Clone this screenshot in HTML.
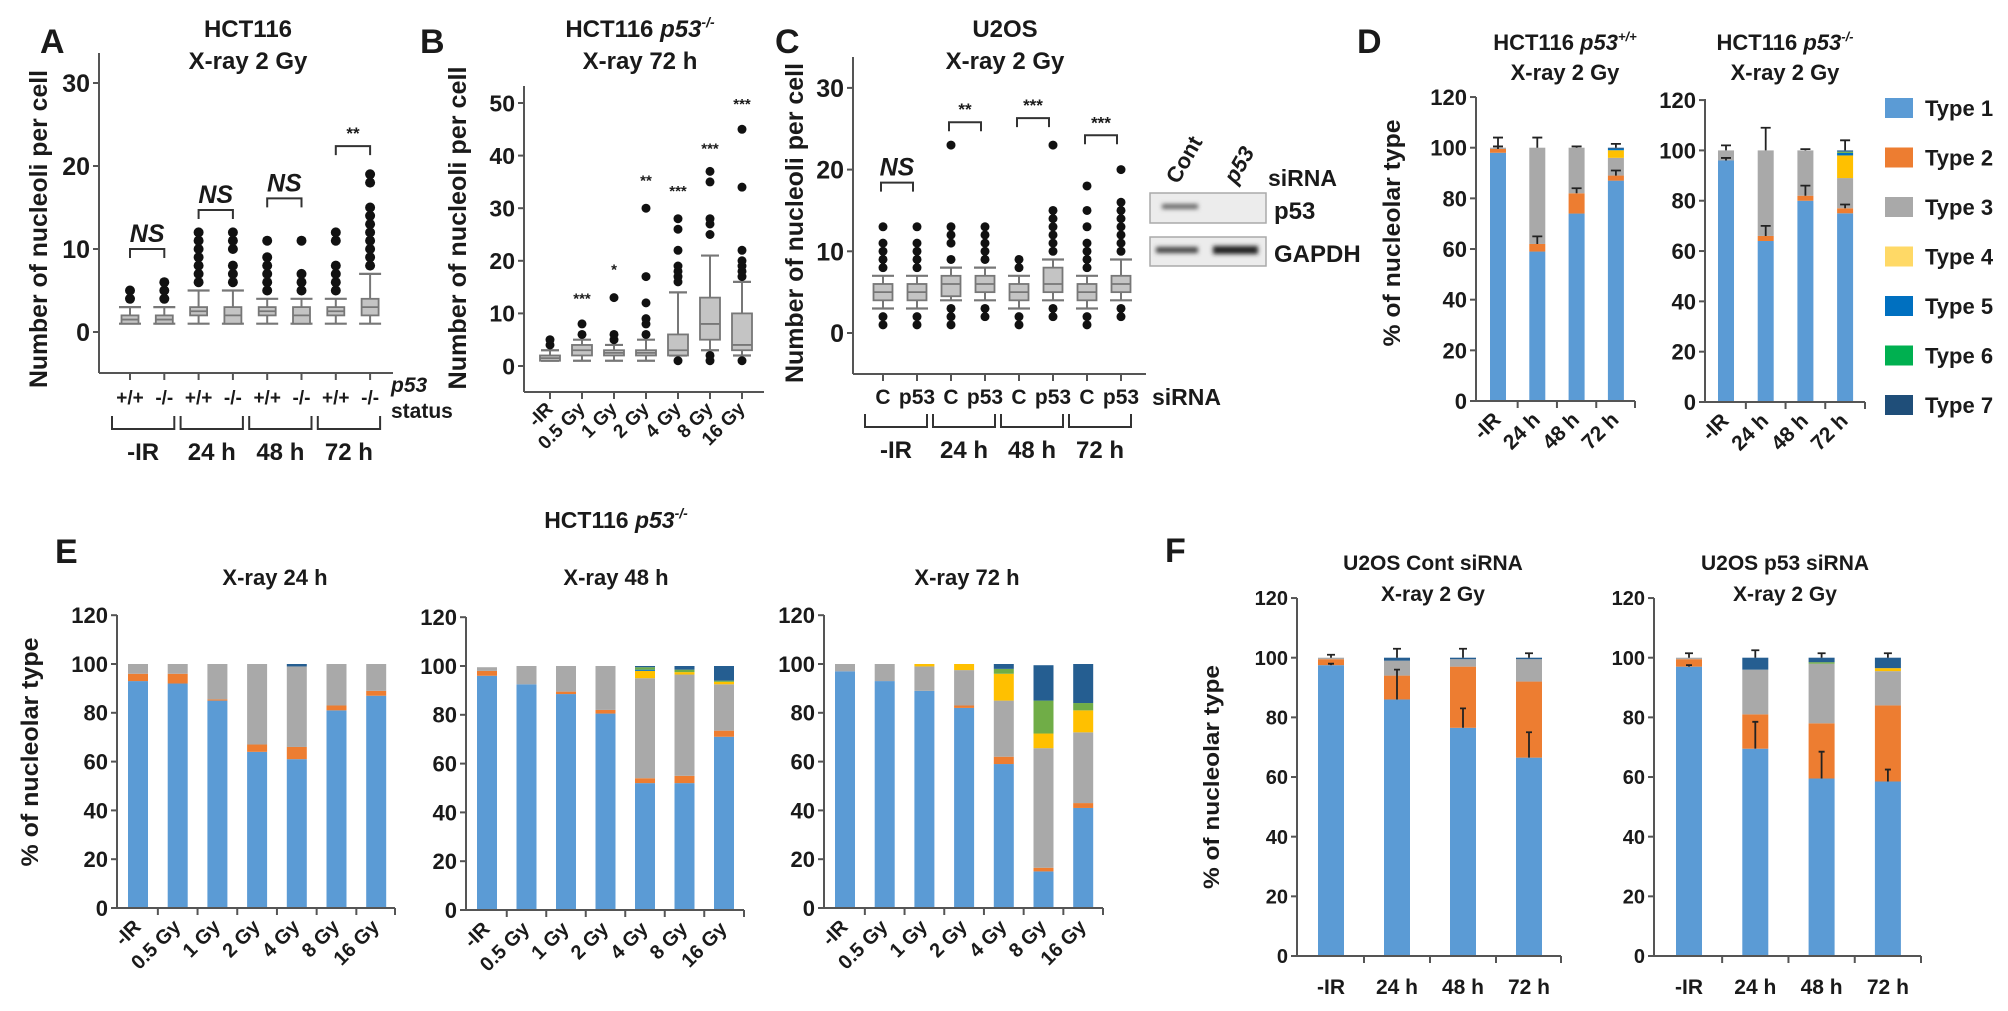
<!DOCTYPE html>
<html><head><meta charset="utf-8"><style>
html,body{margin:0;padding:0;background:#fff;}
svg{display:block;font-family:"Liberation Sans",Arial,sans-serif;font-weight:bold;}
</style></head><body>
<svg id="fig" width="2008" height="1011" viewBox="0 0 2008 1011" xmlns="http://www.w3.org/2000/svg">
<defs><filter id="blur" x="-20%" y="-100%" width="140%" height="300%"><feGaussianBlur stdDeviation="2.2"/></filter></defs>
<g id="pA"></g>
<g id="pB"></g>
<g id="pC"></g>
<g id="pD"></g>
<g id="pE"></g>
<g id="pF"></g>
</svg>
<script>
// ---------- Panel A data ----------
const aCats=['+/+','-/-','+/+','-/-','+/+','-/-','+/+','-/-'];
const aMin=[1,1,1,1,1,1,1,1];
const aQ1=[1,1,2,1,2,1,2,2];
const aMed=[1.5,1.5,2.5,2,2.5,2,2.5,3];
const aQ3=[2,2,3,3,3,3,3,4];
const aMax=[3,3,5,5,4,4,4,7];
const aOut=[[4,5],[4,5,6],[6,7,8,9,10,11,12],[6,7,8,10,11,12],[5,6,7,8,9,11],[5,6,7,11],[5,6,7,8,11,12],[8,9,10,11,12,13,14,15,18,19]];
const aGroups=['-IR','24 h','48 h','72 h'];
const aSig=['NS','NS','NS','**'];
const aSigY=[10,14.7,16.1,22.4];
const aTicks=[0,10,20,30];
// ---------- Panel B data ----------
const bCats=['-IR','0.5 Gy','1 Gy','2 Gy','4 Gy','8 Gy','16 Gy'];
const bMin=[1,1,1,1,2,3,2];
const bQ1=[1,2,2,2,2,5,3];
const bMed=[1.5,3,2.5,2.5,3,8,4];
const bQ3=[2,4,3,3,6,13,10];
const bMax=[3,5,4,5,14,21,16];
const bOut=[[4,5],[6,8],[5,6,13],[6,8,9,12,17,30],[1,16,17,18,19,22,26,28],[1,2,25,27,28,35,37],[1,17,18,19,20,22,34,45]];
const bSig=['','***','*','**','***','***','***'];
const bSigY=[0,13,18.5,35.5,33.5,41.5,50];
const bTicks=[0,10,20,30,40,50];
// ---------- Panel C data ----------
const cCats=['C','p53','C','p53','C','p53','C','p53'];
const cMin=[3,3,4,4,3,4,3,4];
const cQ1=[4,4,4.5,5,4,5,4,5];
const cMed=[5,5,6,6,5,6,5,6];
const cQ3=[6,6,7,7,6,8,6,7];
const cMax=[7,7,8,8,7,9,7,9];
const cOut=[[1,2,8,9,10,11,13],[1,2,8,9,10,11,13],[1,2,3,9,11,12,13,23],[2,3,9,10,11,12,13],[1,2,8,9],[2,3,10,11,12,13,14,15,23],[1,2,8,9,10,11,13,15,18],[2,3,10,11,12,13,14,15,16,20]];
const cGroups=['-IR','24 h','48 h','72 h'];
const cSig=['NS','**','***','***'];
const cSigY=[18.4,25.8,26.3,24.2];
const cTicks=[0,10,20,30];
// ---------- Stacked bar shared ----------
const typeNames=['Type 1','Type 2','Type 3','Type 4','Type 5','Type 6','Type 7'];
const pctTicks=[0,20,40,60,80,100,120];
const timeCats=['-IR','24 h','48 h','72 h'];
const doseCats=['-IR','0.5 Gy','1 Gy','2 Gy','4 Gy','8 Gy','16 Gy'];
// D: HCT116 p53+/+
const dp_t1=[98,59,74,87];
const dp_t2=[1.5,3,8,2];
const dp_t3=[0.5,38,18,7];
const dp_t4=[0,0,0,3];
const dp_t5=[0,0,0,0.5];
const dp_t6=[0,0,0,0];
const dp_t7=[0,0,0,0.5];
const dp_errTop=[4,4,0.5,1.5];
const dp_errT1=[1,3,2,2];
// D: HCT116 p53-/-
const dn_t1=[96,64,80,75];
const dn_t2=[0,2,2,2];
const dn_t3=[4,34,18,12];
const dn_t4=[0,0,0,9];
const dn_t5=[0,0,0,1];
const dn_t6=[0,0,0,0.5];
const dn_t7=[0,0,0,0.5];
const dn_errTop=[2,9,0.5,4];
const dn_errT1=[1,4,4,1.5];
// E: 24 h
const e24_t1=[93,92,85,64,61,81,87];
const e24_t2=[3,4,0.5,3,5,2,2];
const e24_t3=[4,4,14.5,33,33,17,11];
const e24_t4=[0,0,0,0,0,0,0];
const e24_t5=[0,0,0,0,0,0,0];
const e24_t6=[0,0,0,0,0,0,0];
const e24_t7=[0,0,0,0,1,0,0];
// E: 48 h
const e48_t1=[96,92.5,88.5,80.5,52,52,71];
const e48_t2=[2,0,1,1.5,2,3,2.5];
const e48_t3=[1.5,7.5,10.5,18,41,41.5,19];
const e48_t4=[0,0,0,0,3,1,1];
const e48_t5=[0,0,0,0,0.5,0,0];
const e48_t6=[0,0,0,0,1,1,0.5];
const e48_t7=[0,0,0,0,0.5,1.5,6];
// E: 72 h
const e72_t1=[97,93,89,82,59,15,41];
const e72_t2=[0,0,0,1,3,1.5,2];
const e72_t3=[3,7,10,14.5,23,49,29];
const e72_t4=[0,0,1,2.5,11,6,9];
const e72_t5=[0,0,0,0,0,0,0];
const e72_t6=[0,0,0,0,2,13.5,3];
const e72_t7=[0,0,0,0,2,14.5,16];
// F: U2OS Cont siRNA
const fc_t1=[97.5,86,76.5,66.5];
const fc_t2=[2,8,20.5,25.5];
const fc_t3=[0.5,5,2.5,7.5];
const fc_t4=[0,0,0,0];
const fc_t5=[0,0,0,0];
const fc_t6=[0,0,0,0];
const fc_t7=[0,1,0.5,0.5];
const fc_errT1=[0.5,10,6.5,8.5];
const fc_errTop=[1,3,3,1.5];
// F: U2OS p53 siRNA
const fp_t1=[97,69.5,59.5,58.5];
const fp_t2=[2.5,11.5,18.5,25.5];
const fp_t3=[0.5,15,20,11.5];
const fp_t4=[0,0,0,1];
const fp_t5=[0,0,0,0];
const fp_t6=[0,0,0.5,0];
const fp_t7=[0,4,1.5,3.5];
const fp_errT1=[0.5,9,9,4];
const fp_errTop=[1.5,2.5,1.5,1.5];

const colors=['#5b9bd5','#ed7d31','#a9a9a9','#ffc000','#0070c0','#70ad47','#255e91'];
const legendColors=['#5b9bd5','#ed7d31','#a9a9a9','#ffd966','#0070c0','#00b050','#1f4e79'];

const NS='http://www.w3.org/2000/svg';
function mk(tag,parent,attrs,text){
  const e=document.createElementNS(NS,tag);
  for(const k in attrs) e.setAttribute(k,attrs[k]);
  if(text!=null) e.textContent=text;
  parent.appendChild(e);
  return e;
}
function txt(parent,x,y,s,size,anchor,extra){
  const a=Object.assign({x:x,y:y,'font-size':size,'text-anchor':anchor||'middle',fill:'#1a1a1a'},extra||{});
  return mk('text',parent,a,s);
}
function panelLetter(g,x,y,s){
  const t=txt(g,x,y,s,34,'start');
  
  
}
function yAxis(g,ax,ticks,size){
  const l=mk('line',g,{x1:ax.x0,x2:ax.x0,y1:ax.yBot,y2:ax.yTop,stroke:'#555','stroke-width':2});
  
  
  ticks.forEach(v=>{
    const yy=ax.y(v);
    mk('line',g,{x1:ax.x0-6,x2:ax.x0,y1:yy,y2:yy,stroke:'#555','stroke-width':2});
    const t=txt(g,ax.x0-9,yy+size*0.36,String(v),size,'end');
    
    
  });
}
function xAxisLine(g,ax,n,tickMode){
  const l=mk('line',g,{x1:ax.x0,x2:ax.x1,y1:ax.yBot,y2:ax.yBot,stroke:'#555','stroke-width':2});
  
  
  for(let i=0;i<n;i++){
    let xx = tickMode==='center'? ax.x(i) : ax.x(i)+ax.step/2;
    if(tickMode!=='center' && i===n-1) xx=ax.x1;
    mk('line',g,{x1:xx,x2:xx,y1:ax.yBot,y2:ax.yBot+7,stroke:'#555','stroke-width':2});
  }
}
function yTitle(g,x,yc,s,len,size){
  const t=mk('text',g,{x:0,y:0,'font-size':size,'text-anchor':'middle',fill:'#1a1a1a',transform:`translate(${x},${yc}) rotate(-90)`,textLength:len,lengthAdjust:'spacingAndGlyphs'},s);
  
  
}
function boxPlot(g,ax,mins,q1s,meds,q3s,maxs,outs,bw,cw,r){
  mins.forEach((_,i)=>{
    const cx=ax.x(i);
    const bg=mk('g',g,{});
    
    
    mk('line',bg,{x1:cx,x2:cx,y1:ax.y(mins[i]),y2:ax.y(maxs[i]),stroke:'#777','stroke-width':2});
    mk('line',bg,{x1:cx-cw/2,x2:cx+cw/2,y1:ax.y(mins[i]),y2:ax.y(mins[i]),stroke:'#777','stroke-width':2.2});
    mk('line',bg,{x1:cx-cw/2,x2:cx+cw/2,y1:ax.y(maxs[i]),y2:ax.y(maxs[i]),stroke:'#777','stroke-width':2.2});
    mk('rect',bg,{x:cx-bw/2,y:ax.y(q3s[i]),width:bw,height:Math.max(2,ax.y(q1s[i])-ax.y(q3s[i])),fill:'#c4c4c4',stroke:'#777','stroke-width':1.8});
    mk('line',bg,{x1:cx-bw/2,x2:cx+bw/2,y1:ax.y(meds[i]),y2:ax.y(meds[i]),stroke:'#777','stroke-width':1.8});
    outs[i].forEach(v=>{
      const c=mk('circle',bg,{cx:cx,cy:ax.y(v),r:r,fill:'#111'});
      
      
    });
  });
}
function sigBracket(g,x1,x2,yy,label,italic,size){
  const p=mk('path',g,{d:`M${x1} ${yy+9} V${yy} H${x2} V${yy+9}`,fill:'none',stroke:'#333','stroke-width':2});
  
  
  const t=txt(g,(x1+x2)/2,yy-7,label,size,'middle',italic?{'font-style':'italic'}:{});
  
  
}
function groupBrackets(g,ax,groups,yb,ylab){
  groups.forEach((s,k)=>{
    const x1=ax.x(2*k)-18, x2=ax.x(2*k+1)+10;
    const p=mk('path',g,{d:`M${x1} ${yb} V${yb+13} H${x2} V${yb}`,fill:'none',stroke:'#333','stroke-width':2});
    
    
    const t=txt(g,(x1+x2)/2,ylab,s,24,'middle');
    
    
  });
}
function rotLabels(g,ax,cats,yOff,size){
  cats.forEach((s,i)=>{
    const xx=ax.x(i)+4, yy=ax.yBot+yOff;
    const t=mk('text',g,{x:0,y:0,'font-size':size,'text-anchor':'end',fill:'#1a1a1a',transform:`translate(${xx},${yy}) rotate(-45)`},s);
    
    
  });
}
function stacked(g,ax,series,bw){
  const n=series[0].length;
  for(let i=0;i<n;i++){
    let base=0;
    const bg=mk('g',g,{});
    
    
    series.forEach((arr,k)=>{
      const v=arr[i];
      if(v<=0) return;
      const r=mk('rect',bg,{x:ax.x(i)-bw/2,y:ax.y(base+v),width:bw,height:ax.y(base)-ax.y(base+v),fill:colors[k]});
      
      
      base+=v;
    });
  }
}
function errBars(g,ax,baseArrs,errs,cw){
  errs.forEach((e,i)=>{
    let base=0; baseArrs.forEach(a=>base+=a[i]);
    if(e<=0) return;
    const x=ax.x(i);
    const p=mk('path',g,{d:`M${x} ${ax.y(base)} V${ax.y(base+e)} M${x-cw/2} ${ax.y(base+e)} H${x+cw/2}`,stroke:'#222','stroke-width':1.8,fill:'none'});
    
    
  });
}
function makeAx(x0,x1,yTop,yBot,first,step,y0,pxPer){
  return {x0:x0,x1:x1,yTop:yTop,yBot:yBot,step:step,x:i=>first+i*step,y:v=>y0-v*pxPer};
}

// ================= Panel A =================
(function(){
  const g=document.getElementById('pA');
  panelLetter(g,40,53,'A');
  let t=txt(g,248,37,'HCT116',24);  
  t=txt(g,248,69,'X-ray 2 Gy',24);  
  const ax=makeAx(99,393,53,373,130,34.3,332,8.3);
  yAxis(g,ax,aTicks,25);
  xAxisLine(g,ax,aCats.length,'center');
  yTitle(g,47,229,'Number of nucleoli per cell',318,25);
  boxPlot(g,ax,aMin,aQ1,aMed,aQ3,aMax,aOut,17,22,5);
  aSig.forEach((s,k)=>sigBracket(g,ax.x(2*k),ax.x(2*k+1),ax.y(aSigY[k]),s,s==='NS',s==='NS'?25:17));
  aCats.forEach((s,i)=>{const l=txt(g,ax.x(i),404,s,19,'middle');  });
  t=txt(g,391,392,'p53',21,'start',{'font-style':'italic'});  
  t=txt(g,391,418,'status',21,'start');  
  groupBrackets(g,ax,aGroups,416,460);
})();

// ================= Panel B =================
(function(){
  const g=document.getElementById('pB');
  panelLetter(g,420,53,'B');
  const t1=mk('text',g,{x:640,y:37,'font-size':24,'text-anchor':'middle',fill:'#1a1a1a'});
  
  
  mk('tspan',t1,{},'HCT116 ');mk('tspan',t1,{'font-style':'italic'},'p53');mk('tspan',t1,{'font-size':14,dy:-10,'font-style':'italic'},'-/-');
  let t=txt(g,640,69,'X-ray 72 h',24);  
  const ax=makeAx(524,764,86,392,550,32,366,5.26);
  yAxis(g,ax,bTicks,23);
  xAxisLine(g,ax,bCats.length,'center');
  yTitle(g,466,228,'Number of nucleoli per cell',323,25);
  boxPlot(g,ax,bMin,bQ1,bMed,bQ3,bMax,bOut,20,18,4.5);
  bSig.forEach((s,i)=>{ if(!s) return; const l=txt(g,ax.x(i),ax.y(bSigY[i])+6,s,15,'middle');  });
  rotLabels(g,ax,bCats,18,19);
})();

// ================= Panel C =================
(function(){
  const g=document.getElementById('pC');
  panelLetter(g,775,53,'C');
  let t=txt(g,1005,37,'U2OS',24);  
  t=txt(g,1005,69,'X-ray 2 Gy',24);  
  const ax=makeAx(853,1146,57,374,883,34,333,8.17);
  yAxis(g,ax,cTicks,25);
  xAxisLine(g,ax,cCats.length,'center');
  yTitle(g,803,223,'Number of nucleoli per cell',320,25);
  boxPlot(g,ax,cMin,cQ1,cMed,cQ3,cMax,cOut,19,22,4.5);
  cSig.forEach((s,k)=>sigBracket(g,ax.x(2*k)-2,ax.x(2*k+1)-4,ax.y(cSigY[k]),s,s==='NS',s==='NS'?25:17));
  cCats.forEach((s,i)=>{const l=txt(g,ax.x(i),404,s,21,'middle');  });
  t=txt(g,1152,405,'siRNA',23,'start');  
  groupBrackets(g,ax,cGroups,414,458);
  // western blot
  const wb=mk('g',g,{});
  
  
  let r=mk('rect',wb,{x:1150,y:193,width:116,height:30,fill:'#ececec',stroke:'#aaa','stroke-width':1.5});
   
  r=mk('rect',wb,{x:1150,y:237,width:116,height:29,fill:'#ececec',stroke:'#aaa','stroke-width':1.5});
   
  mk('rect',wb,{x:1162,y:204,width:36,height:5,fill:'#666',filter:'url(#blur)'});
  mk('rect',wb,{x:1156,y:247,width:42,height:6,fill:'#444',filter:'url(#blur)'});
  mk('rect',wb,{x:1213,y:246,width:45,height:8,fill:'#222',filter:'url(#blur)'});
  t=txt(g,1274,219,'p53',24,'start');  
  t=txt(g,1274,262,'GAPDH',24,'start');  
  t=txt(g,1268,186,'siRNA',23,'start');  
  t=mk('text',g,{x:0,y:0,'font-size':22,'text-anchor':'start',fill:'#1a1a1a',transform:'translate(1178,185) rotate(-60)'},'Cont');
   
  t=mk('text',g,{x:0,y:0,'font-size':22,'text-anchor':'start','font-style':'italic',fill:'#1a1a1a',transform:'translate(1236,185) rotate(-60)'},'p53');
   
})();

// ================= Panel D =================
(function(){
  const g=document.getElementById('pD');
  panelLetter(g,1357,53,'D');
  function title(x,sup){
    const t=mk('text',g,{x:x,y:50,'font-size':22,'text-anchor':'middle',fill:'#1a1a1a'});
    
    
    mk('tspan',t,{},'HCT116 ');mk('tspan',t,{'font-style':'italic'},'p53');mk('tspan',t,{'font-size':13,dy:-9,'font-style':'italic'},sup);
    const s=txt(g,x,80,'X-ray 2 Gy',22);  
  }
  title(1565,'+/+'); title(1785,'-/-');
  const ax1=makeAx(1476,1635,97,401,1498,39.3,401,2.533);
  const ax2=makeAx(1705,1865,99,402,1726,39.7,402,2.516);
  yTitle(g,1400,233,'% of nucleolar type',227,24);
  [[ax1,[dp_t1,dp_t2,dp_t3,dp_t4,dp_t5,dp_t6,dp_t7],dp_errT1,dp_errTop],[ax2,[dn_t1,dn_t2,dn_t3,dn_t4,dn_t5,dn_t6,dn_t7],dn_errT1,dn_errTop]].forEach(([ax,ser,e1,et])=>{
    const cg=mk('g',g,{});
    
    
    yAxis(cg,ax,pctTicks,22);
    stacked(cg,ax,ser,16);
    xAxisLine(cg,ax,timeCats.length,'between');
    errBars(cg,ax,[ser[0],ser[1]],e1,10);
    errBars(cg,ax,ser,et,10);
    rotLabels(cg,ax,timeCats,20,21);
  });
  // legend
  const lg=mk('g',g,{});
  
  
  typeNames.forEach((s,k)=>{
    const yy=108+k*49.5;
    const e=mk('g',lg,{});
    
    
    mk('rect',e,{x:1885,y:yy-10,width:28,height:20,fill:legendColors[k]});
    txt(e,1925,yy+8,s,22,'start');
  });
})();

// ================= Panel E =================
(function(){
  const g=document.getElementById('pE');
  panelLetter(g,55,563,'E');
  const t=mk('text',g,{x:616,y:528,'font-size':23,'text-anchor':'middle',fill:'#1a1a1a'});
  
  
  mk('tspan',t,{},'HCT116 ');mk('tspan',t,{'font-style':'italic'},'p53');mk('tspan',t,{'font-size':14,dy:-10,'font-style':'italic'},'-/-');
  const charts=[
    ['X-ray 24 h',275,makeAx(117,395,615,908,138,39.7,908,2.44),[e24_t1,e24_t2,e24_t3,e24_t4,e24_t5,e24_t6,e24_t7]],
    ['X-ray 48 h',616,makeAx(466,744,617,910,487,39.5,910,2.44),[e48_t1,e48_t2,e48_t3,e48_t4,e48_t5,e48_t6,e48_t7]],
    ['X-ray 72 h',967,makeAx(824,1103,615,908,845,39.7,908,2.44),[e72_t1,e72_t2,e72_t3,e72_t4,e72_t5,e72_t6,e72_t7]]
  ];
  yTitle(g,38,752,'% of nucleolar type',229,24);
  charts.forEach(([ti,cx,ax,ser])=>{
    const cg=mk('g',g,{});
    
    
    const tt=txt(cg,cx,585,ti,22);  
    yAxis(cg,ax,pctTicks,22);
    stacked(cg,ax,ser,20);
    xAxisLine(cg,ax,doseCats.length,'between');
    rotLabels(cg,ax,doseCats,20,20);
  });
})();

// ================= Panel F =================
(function(){
  const g=document.getElementById('pF');
  panelLetter(g,1165,562,'F');
  yTitle(g,1219,777,'% of nucleolar type',224,22);
  const charts=[
    ['U2OS Cont siRNA',1433,makeAx(1297,1561,598,956,1331,66,956,2.983),[fc_t1,fc_t2,fc_t3,fc_t4,fc_t5,fc_t6,fc_t7],fc_errT1,fc_errTop],
    ['U2OS p53 siRNA',1785,makeAx(1654,1921,598,956,1689,66.3,956,2.983),[fp_t1,fp_t2,fp_t3,fp_t4,fp_t5,fp_t6,fp_t7],fp_errT1,fp_errTop]
  ];
  charts.forEach(([ti,cx,ax,ser,e1,et])=>{
    const cg=mk('g',g,{});
    
    
    let tt=txt(cg,cx,570,ti,21);  
    tt=txt(cg,cx,601,'X-ray 2 Gy',21);  
    yAxis(cg,ax,pctTicks,20);
    stacked(cg,ax,ser,26);
    xAxisLine(cg,ax,timeCats.length,'between');
    errBars(cg,ax,[ser[0]],e1,6);
    errBars(cg,ax,ser,et,8);
    timeCats.forEach((s,i)=>{const l=txt(cg,ax.x(i),994,s,21,'middle');  });
  });
})();
</script>
</body></html>
